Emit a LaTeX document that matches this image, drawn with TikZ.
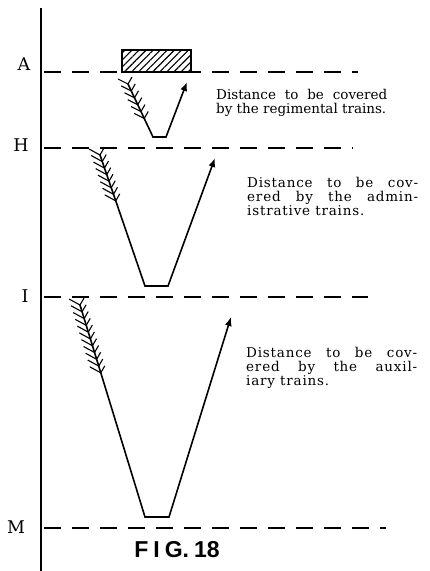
\documentclass[tikz,border=0pt]{standalone}
\usepackage{fontspec}
\setmainfont{DejaVu Serif}
\setsansfont{Liberation Sans}
\usetikzlibrary{calc,arrows.meta,patterns.meta}

\begin{document}
\begin{tikzpicture}[
    x=1pt, y=-1pt,
    level/.style={line width=1.8pt, dash pattern=on 17pt off 11pt},
    lett/.style={font=\fontsize{17.5}{17.5}\selectfont, anchor=base, inner sep=0pt},
    note/.style={font=\fontsize{13.5}{14}\selectfont, text width=171pt, align=justify, anchor=north west, inner sep=0pt},
    widenote/.style={note, font=\fontsize{13.5}{14}\selectfont\addfontfeatures{LetterSpace=6}},
    track/.style={line width=1.6pt},
    run/.style={track, -{Latex[length=9pt,width=7pt]}},
    feather/.style={line width=1.1pt}
  ]
  \useasboundingbox (0,0) rectangle (430,571);
  % axis
  \coordinate (top) at (41,8);
  \coordinate (bot) at (41,571);
  \draw[line width=2.2pt] (top) -- (bot);
  % levels A, H, I, M
  \coordinate (a0) at (44,72);  \coordinate (a1) at (358,72);
  \coordinate (h0) at (44,148); \coordinate (h1) at (353,148);
  \coordinate (i0) at (44,297); \coordinate (i1) at (368,297);
  \coordinate (m0) at (44,528); \coordinate (m1) at (386,528);
  \draw[level] (a0) -- (a1);
  \draw[level] (h0) -- (h1);
  \draw[level] (i0) -- (i1);
  \draw[level] (m0) -- (m1);
  \node[lett] (labA) at (24,70) {A};
  \node[lett] (labH) at (21,151) {H};
  \node[lett] (labI) at (25,302) {I};
  \node[lett] (labM) at (16,533) {M};
  % the trains at A
  \node[draw, line width=1.6pt, preaction={fill=white},
        pattern={Lines[angle=45,distance=5pt,line width=1.1pt]},
        minimum width=69pt, minimum height=22pt, inner sep=0pt] (block) at (156.5,61) {};
  % regimental trains
  \coordinate (tailR) at (128,84);
  \coordinate (lowR1) at (153,137);
  \coordinate (lowR2) at (166,137);
  \coordinate (tipR) at (187,82);
  \draw[run] (tailR) -- (lowR1) -- (lowR2) -- (tipR);
  \foreach \s in {0,0.13,...,0.66} {
    \draw[feather] ($(tailR)!\s!(lowR1)$) -- ++(-10,-5);
    \draw[feather] ($(tailR)!\s!(lowR1)$) -- ++(4,-7);
  }
  % administrative trains
  \coordinate (tailD) at (100,155);
  \coordinate (lowD1) at (145,286);
  \coordinate (lowD2) at (168,286);
  \coordinate (tipD) at (215,158);
  \draw[run] (tailD) -- (lowD1) -- (lowD2) -- (tipD);
  \foreach \s in {0,0.05,...,0.36} {
    \draw[feather] ($(tailD)!\s!(lowD1)$) -- ++(-11,-6);
    \draw[feather] ($(tailD)!\s!(lowD1)$) -- ++(4,-7);
  }
  % auxiliary trains
  \coordinate (tailX) at (80,305);
  \coordinate (lowX1) at (145,517);
  \coordinate (lowX2) at (169,517);
  \coordinate (tipX) at (231,317);
  \draw[run] (tailX) -- (lowX1) -- (lowX2) -- (tipX);
  \foreach \s in {0,0.032,...,0.33} {
    \draw[feather] ($(tailX)!\s!(lowX1)$) -- ++(-11,-6);
    \draw[feather] ($(tailX)!\s!(lowX1)$) -- ++(4,-7);
  }
  % notes
  \node[note] (noteR) at (216,89) {Distance to be covered\linebreak by the regimental trains.};
  \node[widenote] (noteD) at (247,177) {Distance to be cov-\linebreak ered by the admin-\linebreak istrative trains.};
  \node[widenote] (noteX) at (246,347) {Distance to be cov-\linebreak ered by the auxil-\linebreak iary trains.};
  \node[font=\sffamily\bfseries\fontsize{23}{23}\selectfont, anchor=base, inner sep=0pt] (fig) at (177,557) {F\kern5pt I\kern5pt G.\kern5pt 18};
\end{tikzpicture}
\end{document}
